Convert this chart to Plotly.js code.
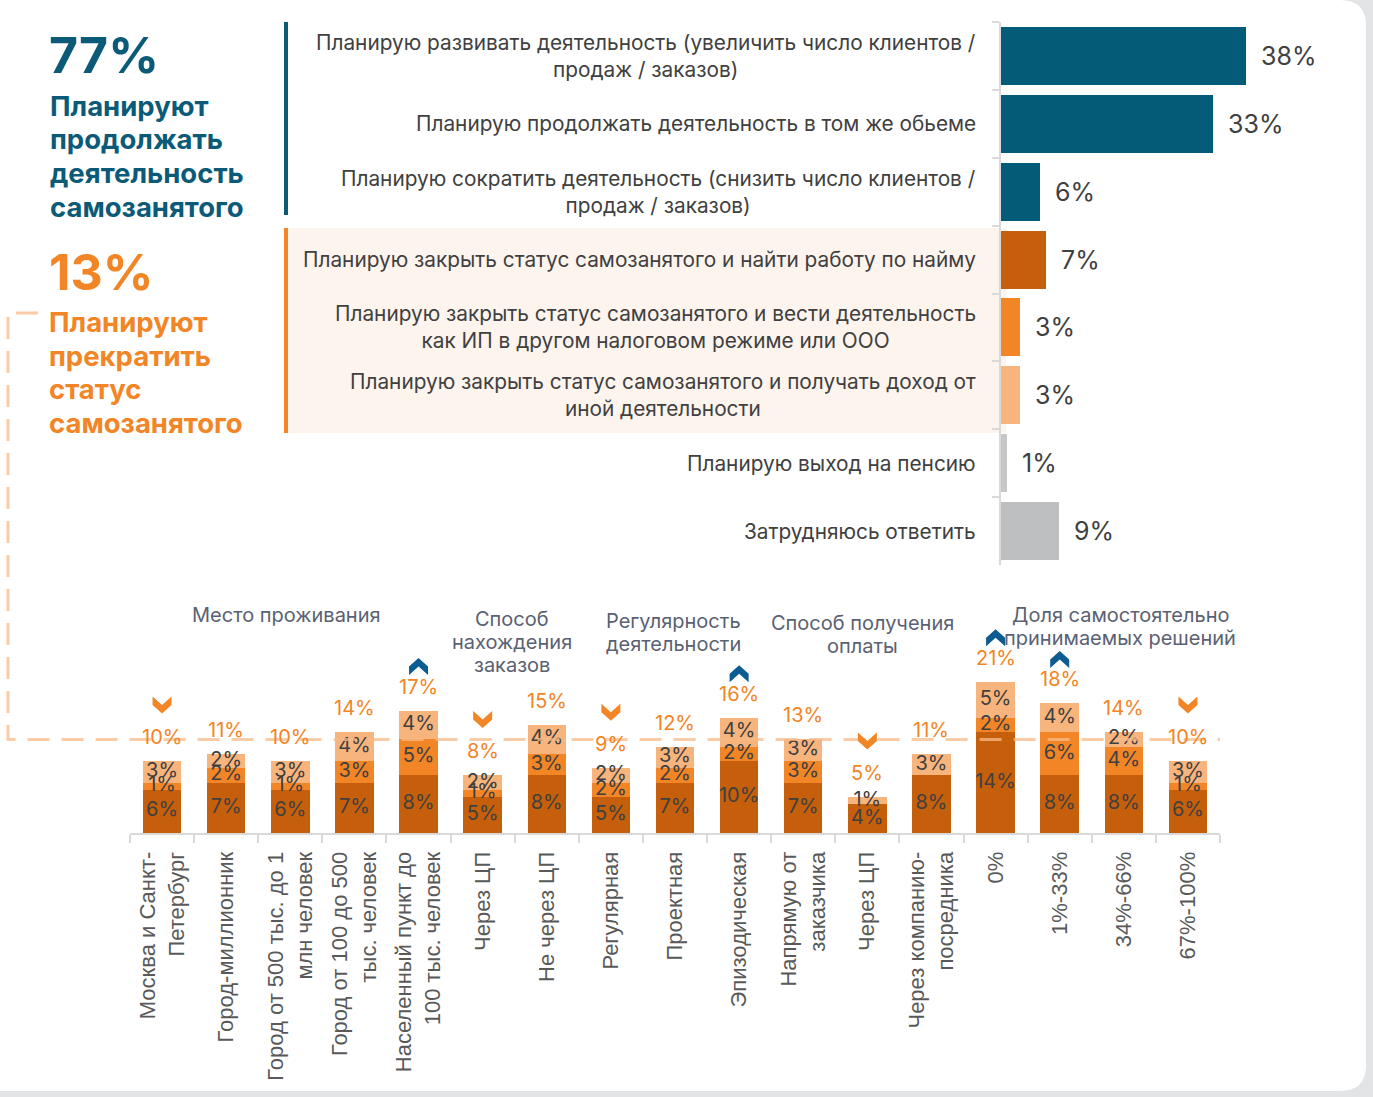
<!DOCTYPE html>
<html><head><meta charset="utf-8">
<script src="https://cdn.plot.ly/plotly-3.0.1.min.js"></script>
<style>html,body{margin:0;padding:0;background:#e3e4e6;overflow:hidden}</style>
</head><body><div id="chart" style="width:1373px;height:1097px"></div>
<script>
// ---------- DATA ----------
const planLabels = [
  "Планирую развивать деятельность (увеличить число клиентов /<br>продаж / заказов)",
  "Планирую продолжать деятельность в том же обьеме",
  "Планирую сократить деятельность (снизить число клиентов /<br>продаж / заказов)",
  "Планирую закрыть статус самозанятого и найти работу по найму",
  "Планирую закрыть статус самозанятого и вести деятельность<br>как ИП в другом налоговом режиме или ООО",
  "Планирую закрыть статус самозанятого и получать доход от<br>иной деятельности",
  "Планирую выход на пенсию",
  "Затрудняюсь ответить"
];
const planValues = [38, 33, 6, 7, 3, 3, 1, 9];

const segmentCategories = [
  "Москва и Санкт-<br>Петербург", "Город-миллионник", "Город от 500 тыс. до 1<br>млн человек",
  "Город от 100 до 500<br>тыс. человек", "Населенный пункт до<br>100 тыс. человек",
  "Через ЦП", "Не через ЦП", "Регулярная", "Проектная", "Эпизодическая",
  "Напрямую от<br>заказчика", "Через ЦП", "Через компанию-<br>посредника",
  "0%", "1%-33%", "34%-66%", "67%-100%"
];
const hireValues  = [6, 7, 6, 7, 8, 5, 8, 5, 7, 10, 7, 4, 8, 14, 8, 8, 6];
const ipValues    = [1, 2, 1, 3, 5, 1, 3, 2, 2, 2, 3, 0, 0, 2, 6, 4, 1];
const otherValues = [3, 2, 3, 4, 4, 2, 4, 2, 3, 4, 3, 1, 3, 5, 4, 2, 3];
const totalValues = [10, 11, 10, 14, 17, 8, 15, 9, 12, 16, 13, 5, 11, 21, 18, 14, 10];
const trendMarks  = ["down","","","","up","down","","down","","up","","down","","up","up","","down"];
const averageStop = 13;

const groupTitles = [
  ["Место проживания"],
  ["Способ", "нахождения", "заказов"],
  ["Регулярность", "деятельности"],
  ["Способ получения", "оплаты"],
  ["Доля самостоятельно", "принимаемых решений"]
];
const continueShare = "77%";
const continueLines = ["Планируют", "продолжать", "деятельность", "самозанятого"];
const stopShare = "13%";
const stopLines = ["Планируют", "прекратить", "статус", "самозанятого"];

// ---------- STYLE / LAYOUT HELPERS ----------
const W = 1373, H = 1097;
const X = p => p / W;
const Y = p => 1 - p / H;
const BLUE = "#045b78", ORD = "#c65f0b", ORM = "#f28526", ORL = "#f8b47d";
const planColors = [BLUE, BLUE, BLUE, ORD, ORM, ORL, "#c6c7c9", "#bebfc1"];
const FONT = "Inter, 'Noto Sans', sans-serif";
const TXT = "#404040";

const y2dom = [Y(833), Y(617)];
const y2range = [0, 30];

const traces = [];
traces.push({
  type: "bar", orientation: "h", x: planValues, y: planLabels,
  marker: {color: planColors, line: {width: 0}}, width: 0.855,
  xaxis: "x", yaxis: "y", hoverinfo: "skip"
});
const idx = segmentCategories.map((_, i) => i);
[[hireValues, ORD], [ipValues, ORM], [otherValues, ORL]].forEach(([v, c]) => {
  traces.push({type: "bar", x: idx, y: v, marker: {color: c, line: {width: 0}}, width: 0.6,
    xaxis: "x2", yaxis: "y2", hoverinfo: "skip"});
});
// segment labels
const lx = [], ly = [], lt = [];
idx.forEach(i => {
  let base = 0;
  [hireValues, ipValues, otherValues].forEach(v => {
    lx.push(i); ly.push(base + v[i] / 2); lt.push(v[i] > 0 ? v[i] + "%" : "");
    base += v[i];
  });
});
traces.push({type: "scatter", mode: "text", x: lx, y: ly, text: lt,
  textfont: {family: FONT, size: 20, color: TXT}, xaxis: "x2", yaxis: "y2", hoverinfo: "skip"});

const annotations = [];
// left summary texts
annotations.push({xref: "paper", yref: "paper", x: X(47), y: Y(55), xanchor: "left", yanchor: "middle",
  text: "<b>" + continueShare + "</b>", showarrow: false, font: {family: FONT, size: 50, color: "#0b5b78"}});
continueLines.forEach((ln, k) => {
  annotations.push({xref: "paper", yref: "paper", x: X(48), y: Y(106 + 33.5 * k), xanchor: "left", yanchor: "middle",
    text: "<b>" + ln + "</b>", showarrow: false, font: {family: FONT, size: 27.5, color: "#0b5b78"}});
});
annotations.push({xref: "paper", yref: "paper", x: X(47), y: Y(272), xanchor: "left", yanchor: "middle",
  text: "<b>" + stopShare + "</b>", showarrow: false, font: {family: FONT, size: 50, color: ORM}});
stopLines.forEach((ln, k) => {
  annotations.push({xref: "paper", yref: "paper", x: X(47), y: Y(322 + 33.7 * k), xanchor: "left", yanchor: "middle",
    text: "<b>" + ln + "</b>", showarrow: false, font: {family: FONT, size: 27.5, color: ORM}});
});
// top category labels + values
planLabels.forEach((lab, i) => {
  annotations.push({xref: "paper", yref: "y", x: X(978), y: lab, xanchor: "right", yanchor: "middle", align: "center",
    text: lab, showarrow: false, font: {family: FONT, size: 20.8, color: TXT}});
  annotations.push({xref: "x", yref: "y", x: planValues[i], y: lab, xanchor: "left", yanchor: "middle", xshift: 13,
    text: planValues[i] + "%", showarrow: false, font: {family: FONT, size: 25, color: TXT}});
});
// totals
totalValues.forEach((t, i) => {
  annotations.push({xref: "x2", yref: "y2", x: i, y: t, yanchor: "middle", yshift: 24,
    text: t + "%", showarrow: false, font: {family: FONT, size: 20, color: ORM}});
});
// group titles
const groupPos = [[286, 615], [512, 619], [673, 621], [863, 623], [1120, 615]];
groupTitles.forEach((lines, g) => {
  lines.forEach((ln, k) => {
    annotations.push({xref: "paper", yref: "paper", x: X(groupPos[g][0]), y: Y(groupPos[g][1] + 23 * k),
      xanchor: "center", yanchor: "middle", text: ln, showarrow: false,
      font: {family: FONT, size: 20, color: "#5a6172"}});
  });
});

const shapes = [];
// white panel
(function(){
  const x0 = -30, y0 = 0, x1 = 1366, y1 = 1091, r = 26;
  shapes.push({type: "path", xref: "paper", yref: "paper", layer: "below",
    path: `M ${X(x0)} ${Y(y0)} L ${X(x1 - r)} ${Y(y0)} Q ${X(x1)} ${Y(y0)} ${X(x1)} ${Y(y0 + r)} L ${X(x1)} ${Y(y1 - r)} Q ${X(x1)} ${Y(y1)} ${X(x1 - r)} ${Y(y1)} L ${X(x0)} ${Y(y1)} Z`,
    fillcolor: "#ffffff", line: {width: 0}});
})();
// peach band
shapes.push({type: "rect", xref: "paper", yref: "paper", layer: "below",
  x0: X(288), x1: X(1006), y0: Y(433), y1: Y(228), fillcolor: "#fdf4ee", line: {width: 0}});
// vertical accent lines
shapes.push({type: "line", xref: "paper", yref: "paper", x0: X(286), x1: X(286), y0: Y(22), y1: Y(215),
  line: {color: "#0b5b78", width: 4}});
shapes.push({type: "line", xref: "paper", yref: "paper", x0: X(286), x1: X(286), y0: Y(228), y1: Y(433),
  line: {color: ORM, width: 4}});
// average dashed bracket
const yAvg = y2dom[0] + (averageStop - y2range[0]) / (y2range[1] - y2range[0]) * (y2dom[1] - y2dom[0]);
shapes.push({type: "path", xref: "paper", yref: "paper", layer: "above",
  path: `M ${X(38)} ${Y(313)} L ${X(8)} ${Y(313)} L ${X(8)} ${yAvg} L ${X(1220)} ${yAvg}`,
  line: {color: "rgba(248,186,138,0.75)", width: 3, dash: "22px,12px"}});
// trend chevrons
trendMarks.forEach((m, i) => {
  if (!m) return;
  const c = m === "down" ? 56 : 44;
  const s = m === "down" ? 1 : -1;
  const p = [[-9.5, c + s * 8.5], [0, c], [9.5, c + s * 8.5], [9.5, c], [0, c - s * 8.5], [-9.5, c]];
  shapes.push({type: "path", xref: "x2", yref: "y2", xsizemode: "pixel", ysizemode: "pixel",
    xanchor: i, yanchor: totalValues[i],
    path: "M " + p.map(q => q[0] + "," + q[1]).join(" L ") + " Z",
    fillcolor: m === "down" ? ORM : "#0d5c91", line: {width: 0}});
});

const layout = {
  width: W, height: H, margin: {l: 0, r: 0, t: 0, b: 0},
  paper_bgcolor: "#e3e4e6", plot_bgcolor: "rgba(0,0,0,0)",
  showlegend: false, barmode: "stack",
  font: {family: FONT, color: TXT},
  xaxis: {domain: [X(1001), X(1368)], range: [0, 57], visible: false, fixedrange: true},
  yaxis: {domain: [Y(565), Y(22)], type: "category", autorange: "reversed",
    showline: true, linecolor: "#d9d9d9", linewidth: 2, showgrid: false, zeroline: false,
    ticks: "outside", tickson: "boundaries", ticklen: 7, tickwidth: 2, tickcolor: "#d9d9d9",
    showticklabels: false, anchor: "x", fixedrange: true},
  xaxis2: {domain: [X(130), X(1220)], range: [-0.5, 16.5], anchor: "y2",
    tickmode: "array", tickvals: idx, ticktext: segmentCategories, tickangle: -90,
    tickfont: {family: "'Liberation Sans', Arial, sans-serif", size: 22, color: "#595959"},
    ticks: "", showgrid: false, zeroline: false, showline: true, linecolor: "#d9d9d9", linewidth: 2,
    minor: {ticks: "outside", tick0: -0.5, dtick: 1, ticklen: 8, tickwidth: 2, tickcolor: "#d9d9d9", showgrid: false},
    ticklabelstandoff: 8, fixedrange: true},
  yaxis2: {domain: y2dom, range: y2range, visible: false, anchor: "x2", fixedrange: true},
  annotations: annotations, shapes: shapes
};
Plotly.newPlot("chart", traces, layout, {staticPlot: true, displayModeBar: false});
</script></body></html>
